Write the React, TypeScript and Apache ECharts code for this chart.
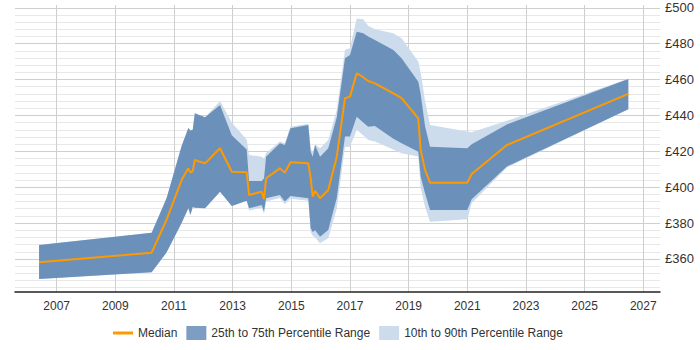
import React, { useEffect, useRef } from "react";
import * as echarts from "echarts";

// Sample dates (decimal years) and the salary percentiles at each date
const years = [
  2006.4, 2010.24, 2010.75, 2011.26, 2011.49, 2011.56, 2011.64, 2011.71, 2012.06, 2012.57,
  2012.97, 2013.48, 2013.56, 2013.99, 2014.07, 2014.14, 2014.61, 2014.78, 2014.97, 2015.58,
  2015.66, 2015.73, 2015.81, 2015.98, 2016.26, 2016.55, 2016.83, 2017.0, 2017.23, 2017.45,
  2017.62, 2017.85, 2018.48, 2018.76, 2019.33, 2019.41, 2019.56, 2019.73, 2021.0, 2021.15,
  2022.35, 2026.49,
];
const p10 = [
  348.8, 352.6, 363.7, 380, 388.3, 384.5, 388.9, 388.5, 388.3, 397.5,
  389.5, 392.5, 387, 388.5, 385, 392, 394, 390.5, 393.5, 392.5,
  375, 373, 372, 368.7, 371.5, 388, 422.6, 422.6, 432, 429,
  426.3, 425.5, 421, 418.9, 417.1, 400, 389, 380.8, 382.1, 391,
  411, 443.4,
];
const p25 = [
  348.8, 352.6, 363.7, 380, 388.3, 384.5, 388.9, 388.5, 388.3, 397.5,
  389.5, 392.5, 388.3, 390.1, 386.4, 393.8, 395.6, 392, 395.1, 393.8,
  377.1, 375, 376, 372.4, 376.1, 394, 428.2, 428.2, 439.3, 436,
  433.7, 434.1, 427, 424.5, 419.8, 406, 396.6, 387.3, 387.3, 393.3,
  411.5, 443.4,
];
const median = [
  358.1, 363.5, 382, 404, 410.5, 408.1, 409, 415.2, 413.3, 421.7,
  408.6, 408.3, 395.7, 397.5, 393.3, 405, 410.5, 408.1, 413.9, 413.3,
  405, 394.7, 398, 393.8, 398.4, 417, 449.6, 450.5, 463.5, 461.3,
  459.2, 457.9, 452.3, 449.6, 438.4, 420.7, 409.6, 402.5, 402.5, 407.4,
  423.5, 452,
];
const p75 = [
  367.8, 374.6, 394, 423, 433, 431.6, 432, 441.2, 439, 445.8,
  429, 421, 403.5, 403.5, 405, 417, 424.5, 423.5, 432.8, 434.7,
  419.8, 417, 423.5, 417, 421.7, 439, 471.9, 473.7, 486.7, 485.8,
  484, 482, 476.5, 471.9, 458.8, 452, 434, 422.5, 421.7, 424,
  435, 460.3,
];
const p90 = [
  367.8, 374.6, 394, 423, 433, 431.6, 432, 441.2, 439, 448,
  436, 426.5, 418, 417, 416, 419, 425.5, 424.5, 433.7, 435.3,
  421.7, 419.5, 424, 421.7, 426.3, 443, 476.5, 477.5, 494.1, 493.6,
  490, 488, 485.8, 483, 470, 464, 448, 434.7, 431, 430.6,
  437, 460.5,
];

const xTickYears = [2007, 2009, 2011, 2013, 2015, 2017, 2019, 2021, 2023, 2025, 2027];
const yTickValues = [360, 380, 400, 420, 440, 460, 480, 500];
const yMinorStep = 4;

const FONT = "'Liberation Sans', Arial, sans-serif";
const ORANGE = "#ff9900";
const BAND_INNER = "#6b91bb";
const BAND_OUTER = "#cddcec";

// [year, low, high] rows for a shaded percentile band
const bandRows = (lo: number[], hi: number[]) => years.map((y, i) => [y, lo[i], hi[i]]);

// Draws the whole band as one polygon: upper edge left→right, lower edge right→left
const bandRenderer = (color: string) => (params: any, api: any) => {
  if (params.dataIndex !== 0) return null;
  const n = params.dataInsideLength;
  const upper: number[][] = [];
  const lower: number[][] = [];
  for (let i = 0; i < n; i++) {
    const x = api.value(0, i);
    upper.push(api.coord([x, api.value(2, i)]));
    lower.push(api.coord([x, api.value(1, i)]));
  }
  return {
    type: "polygon",
    shape: { points: upper.concat(lower.reverse()) },
    style: { fill: color, stroke: null },
    silent: true,
  };
};

// Legend glyph for the median: a 3px bar inside a 20x14 box
const MEDIAN_ICON = "path://M0,0 M20,14 M0,5.5 L20,5.5 L20,8.5 L0,8.5 Z";

export default function App() {
  const ref = useRef<HTMLDivElement>(null);

  useEffect(() => {
    document.body.style.margin = "0";
    if (!ref.current) return;
    const chart = echarts.init(ref.current, null, { renderer: "svg" });

    const yMin = 341.75;
    const yMax = 501.56;

    // gridlines: light minor rules every £4, darker rules at labelled values and odd years
    const gridLines: any[] = [];
    for (let v = 344; v < yMax; v += yMinorStep) {
      if (yTickValues.indexOf(v) === -1) {
        gridLines.push({ yAxis: v, lineStyle: { color: "#e8e8e8" } });
      }
    }
    yTickValues.forEach((v) => gridLines.push({ yAxis: v, lineStyle: { color: "#cfcfcf" } }));
    xTickYears.forEach((v) => gridLines.push({ xAxis: v, lineStyle: { color: "#cfcfcf" } }));

    chart.setOption({
      animation: false,
      textStyle: { fontFamily: FONT },
      grid: { left: 15, right: 40, top: 5, bottom: 58.3, containLabel: false },
      xAxis: {
        type: "value",
        min: 2005.58,
        max: 2027.57,
        splitLine: { show: false },
        axisTick: { show: false },
        axisLine: { show: true, lineStyle: { color: "#222", width: 1.5 } },
        axisLabel: {
          customValues: xTickYears,
          formatter: (v: number) => String(v),
          color: "#333",
          fontSize: 12,
          fontFamily: FONT,
          margin: 8,
        },
      },
      yAxis: {
        type: "value",
        position: "right",
        min: yMin,
        max: yMax,
        splitLine: { show: false },
        axisTick: { show: false },
        axisLine: { show: false },
        axisLabel: {
          customValues: yTickValues,
          formatter: (v: number) => "£" + v,
          color: "#333",
          fontSize: 13,
          fontFamily: FONT,
          margin: 5,
        },
      },
      legend: {
        left: 113,
        top: 326,
        padding: 0,
        itemWidth: 20,
        itemHeight: 14,
        itemGap: 9,
        textStyle: { color: "#333", fontSize: 12, fontFamily: FONT },
        selectedMode: false,
        data: [
          { name: "Median", icon: MEDIAN_ICON, itemStyle: { color: ORANGE } },
          { name: "25th to 75th Percentile Range", icon: "rect", itemStyle: { color: "#7d9dc3" } },
          { name: "10th to 90th Percentile Range", icon: "rect", itemStyle: { color: BAND_OUTER } },
        ],
      },
      series: [
        {
          type: "line",
          name: "gridlines",
          data: [],
          silent: true,
          markLine: {
            z: 0,
            silent: true,
            animation: false,
            symbol: ["none", "none"],
            label: { show: false },
            emphasis: { disabled: true },
            lineStyle: { type: "solid", width: 1 },
            data: gridLines,
          },
        },
        {
          type: "custom",
          name: "10th to 90th Percentile Range",
          z: 2,
          itemStyle: { color: BAND_OUTER },
          encode: { x: 0, y: [1, 2] },
          renderItem: bandRenderer(BAND_OUTER),
          data: bandRows(p10, p90),
        },
        {
          type: "custom",
          name: "25th to 75th Percentile Range",
          z: 3,
          itemStyle: { color: BAND_INNER },
          encode: { x: 0, y: [1, 2] },
          renderItem: bandRenderer(BAND_INNER),
          data: bandRows(p25, p75),
        },
        {
          type: "line",
          name: "Median",
          z: 4,
          symbol: "none",
          showSymbol: false,
          silent: true,
          itemStyle: { color: ORANGE },
          lineStyle: { color: ORANGE, width: 2 },
          data: years.map((y, i) => [y, median[i]]),
        },
      ],
    });

    return () => chart.dispose();
  }, []);

  return <div ref={ref} style={{ width: 700, height: 350 }} />;
}
